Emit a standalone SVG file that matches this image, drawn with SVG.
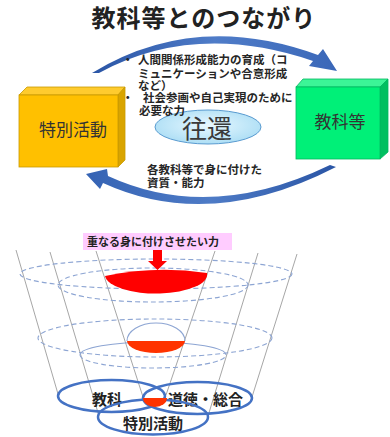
<svg xmlns="http://www.w3.org/2000/svg" width="390" height="437" viewBox="0 0 390 437">
  <defs>
    <linearGradient id="arcTopFill" x1="0" y1="0" x2="1" y2="0">
      <stop offset="0" stop-color="#2A55A5"/>
      <stop offset="0.5" stop-color="#4F7CC8"/>
      <stop offset="1" stop-color="#3A67B8"/>
    </linearGradient>
    <linearGradient id="arcBottomFill" x1="0" y1="0" x2="1" y2="0">
      <stop offset="0" stop-color="#3563B4"/>
      <stop offset="0.5" stop-color="#4E7BC6"/>
      <stop offset="1" stop-color="#2A55A5"/>
    </linearGradient>
    <radialGradient id="oukaFill" cx="0.5" cy="0.45" r="0.6">
      <stop offset="0" stop-color="#E8F8FF"/>
      <stop offset="1" stop-color="#A8DCF4"/>
    </radialGradient>
  </defs>
  <style>
    text { font-family: "Noto Sans CJK JP", "Noto Sans CJK SC", sans-serif; }
    .note { font-size: 11.5px; font-weight: bold; fill: #262626; }
    .boxLabel { font-size: 17px; fill: #333333; text-anchor: middle; }
    .cone { fill: none; stroke: #808080; stroke-width: 0.7; }
    .ring { fill: none; stroke: #8DA5D3; stroke-width: 1.1; stroke-dasharray: 5 3; }
    .ringSolid { fill: none; stroke: #8DA5D3; stroke-width: 1.1; }
    .venn { fill: none; stroke: #4472C4; stroke-width: 2.5; }
    .vennLabel { font-size: 15px; font-weight: bold; fill: #222222; }
  </style>

  <rect width="390" height="437" fill="#FFFFFF"/>

  <!-- title -->
  <g id="title">
    <text x="204" y="27" text-anchor="middle" font-size="24" font-weight="bold" fill="#222222" letter-spacing="1">教科等とのつながり</text>
  </g>

  <!-- curved arrows between the two boxes -->
  <g id="connectors">
    <path d="M92,73 Q195,10 318,55 L323,49 L337,71 L309,66 L313,61 Q195,21 99,73 Z" fill="url(#arcTopFill)"/>
    <path d="M336,167 Q210,232 103,183 L100,189 L86,174 L107,169 L108,176 Q210,223 330,165 Z" fill="url(#arcBottomFill)"/>
  </g>

  <!-- left block -->
  <g id="node-tokkatsu">
    <polygon points="19,95 27,87 125,87 118,95" fill="#FFCB2E" stroke="#C99A00" stroke-width="0.8"/>
    <polygon points="118,95 125,87 125,160 118,167" fill="#D9A400" stroke="#C99A00" stroke-width="0.8"/>
    <rect x="19" y="95" width="99" height="72" fill="#FFC000" stroke="#C99A00" stroke-width="0.8"/>
    <text class="boxLabel" x="73" y="136">特別活動</text>
  </g>

  <!-- right block -->
  <g id="node-kyouka">
    <polygon points="296,87 303,79 388,79 380,87" fill="#3CF597" stroke="#00B860" stroke-width="0.8"/>
    <polygon points="380,87 388,79 388,152 380,159" fill="#00BF60" stroke="#00B860" stroke-width="0.8"/>
    <rect x="296" y="87" width="84" height="72" fill="#00F078" stroke="#00B860" stroke-width="0.8"/>
    <text class="boxLabel" x="340" y="128" font-size="16">教科等</text>
  </g>

  <!-- centre ellipse -->
  <g id="node-ouka">
    <ellipse cx="208" cy="127" rx="53" ry="17" fill="url(#oukaFill)" stroke="#5A9BD0" stroke-width="1"/>
    <text x="207" y="138" text-anchor="middle" font-size="25" fill="#3A3A3A">往還</text>
  </g>

  <!-- upper notes -->
  <g id="note-upper">
    <text class="note" y="64"><tspan x="122">・</tspan><tspan x="138">人間関係形成能力の育成（コ</tspan></text>
    <text class="note" x="138" y="78">ミュニケーションや合意形成</text>
    <text class="note" x="138" y="90">など）</text>
    <text class="note" y="102"><tspan x="122">・</tspan><tspan x="143">社会参画や自己実現のために</tspan></text>
    <text class="note" x="139" y="115">必要な力</text>
  </g>

  <!-- lower notes -->
  <g id="note-lower">
    <text class="note" x="147" y="174" font-size="11">各教科等で身に付けた</text>
    <text class="note" x="147" y="187" font-size="11">資質・能力</text>
  </g>

  <!-- cone guide lines -->
  <g id="cone-lines">
    <line class="cone" x1="16" y1="250" x2="58" y2="394"/>
    <line class="cone" x1="50" y1="252" x2="99" y2="416"/>
    <line class="cone" x1="96" y1="251" x2="143" y2="397"/>
    <line class="cone" x1="215" y1="251" x2="166" y2="395"/>
    <line class="cone" x1="258" y1="253" x2="208" y2="416"/>
    <line class="cone" x1="297" y1="254" x2="252" y2="397"/>
  </g>

  <!-- upper layer -->
  <g id="layer-top">
    <ellipse class="ring" cx="156" cy="274" rx="136" ry="15"/>
    <ellipse class="ring" cx="153" cy="285" rx="95" ry="17"/>
    <path d="M105,276 Q156,265 207,273 A51,19 0 0 1 105,276 Z" fill="#FF0000"/>
  </g>

  <!-- middle layer -->
  <g id="layer-middle">
    <ellipse class="ring" cx="155" cy="338" rx="117" ry="19"/>
    <path class="ringSolid" d="M80,355 A73,13 0 0 1 226,355"/>
    <path class="ring" d="M80,355 A73,13 0 0 0 226,355"/>
    <path class="ringSolid" d="M127,341 A29,18 0 0 1 185,341"/>
    <path d="M127,341 L185,341 A29,12 0 0 1 127,341 Z" fill="#FF3300"/>
  </g>

  <!-- bottom circles -->
  <g id="node-kyouka-base">
    <ellipse class="venn" cx="111.5" cy="396" rx="53.5" ry="16"/>
    <text class="vennLabel" x="92" y="405">教科</text>
  </g>
  <g id="node-doutoku-base">
    <ellipse class="venn" cx="197.5" cy="398" rx="54.5" ry="16"/>
    <text class="vennLabel" x="168" y="405">道徳・総合</text>
  </g>
  <g id="node-tokkatsu-base">
    <ellipse class="venn" cx="153" cy="417" rx="55" ry="17.5"/>
    <text class="vennLabel" x="123" y="429">特別活動</text>
  </g>
  <path id="overlap-base" d="M143,398 L167,398 A12,9 0 0 1 143,398 Z" fill="#FF3300"/>

  <!-- callout label with arrow -->
  <g id="callout">
    <rect x="83" y="233" width="149" height="17" fill="#FFCCFF"/>
    <text x="87" y="246" font-size="11" font-weight="bold" fill="#222222">重なる身に付けさせたい力</text>
    <polygon points="153,250 162,250 162,261 167,261 157.5,270 148,261 153,261" fill="#FF0000"/>
  </g>
</svg>
